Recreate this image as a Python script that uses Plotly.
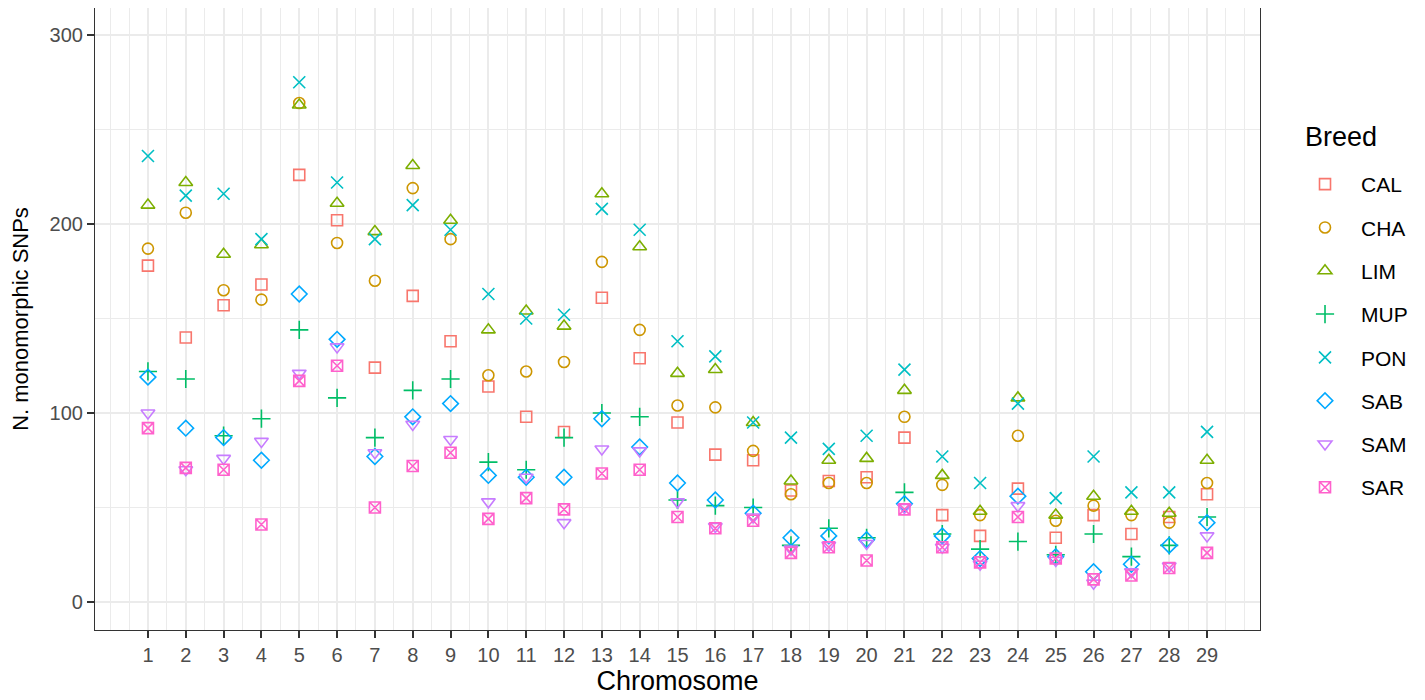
import plotly.graph_objects as go

chromosomes = list(range(1, 30))
breeds = ["CAL", "CHA", "LIM", "MUP", "PON", "SAB", "SAM", "SAR"]

CAL = [178, 140, 157, 168, 226, 202, 124, 162, 138, 114, 98, 90, 161, 129, 95, 78, 75, 59, 64, 66, 87, 46, 35, 60, 34, 46, 36, 45, 57]
CHA = [187, 206, 165, 160, 264, 190, 170, 219, 192, 120, 122, 127, 180, 144, 104, 103, 80, 57, 63, 63, 98, 62, 46, 88, 43, 51, 46, 42, 63]
LIM = [210, 222, 184, 189, 263, 211, 196, 231, 202, 144, 154, 146, 216, 188, 121, 123, 95, 64, 75, 76, 112, 67, 48, 108, 46, 56, 48, 47, 75]
MUP = [122, 118, 88, 97, 144, 108, 87, 112, 118, 74, 70, 87, 100, 98, 54, 51, 50, 30, 39, 34, 58, 36, 28, 32, 25, 36, 24, 30, 45]
PON = [236, 215, 216, 192, 275, 222, 192, 210, 197, 163, 150, 152, 208, 197, 138, 130, 95, 87, 81, 88, 123, 77, 63, 105, 55, 77, 58, 58, 90]
SAB = [119, 92, 87, 75, 163, 139, 77, 98, 105, 67, 66, 66, 97, 82, 63, 54, 47, 34, 35, 33, 52, 35, 23, 56, 24, 16, 20, 30, 42]
SAM = [100, 70, 76, 85, 121, 135, 79, 94, 86, 53, 66, 42, 81, 80, 53, 40, 45, 28, 30, 31, 50, 29, 20, 51, 22, 10, 16, 19, 35]
SAR = [92, 71, 70, 41, 117, 125, 50, 72, 79, 44, 55, 49, 68, 70, 45, 39, 43, 26, 29, 22, 49, 29, 21, 45, 23, 12, 14, 18, 26]

series = {"CAL": CAL, "CHA": CHA, "LIM": LIM, "MUP": MUP, "PON": PON, "SAB": SAB, "SAM": SAM, "SAR": SAR}

colors = ["#F8766D", "#CD9600", "#7CAE00", "#00BE67", "#00BFC4", "#00A9FF", "#C77CFF", "#FF61CC"]
symbols = ["square-open", "circle-open", "triangle-up-open", "cross-thin-open",
           "x-thin-open", "diamond-open", "triangle-down-open", "square-x-open"]
sizes = [11, 11, 12, 13, 12, 12, 12, 11]

fig = go.Figure()
for b, c, s, sz in zip(breeds, colors, symbols, sizes):
    fig.add_trace(go.Scatter(
        x=chromosomes, y=series[b], mode="markers", name=b, legendgroup=b,
        marker=dict(symbol=s, color=c, size=sz, line=dict(color=c, width=1.6)),
    ))

axis_common = dict(
    showline=True, linecolor="#333333", linewidth=1.2, mirror=True,
    gridcolor="#EBEBEB", gridwidth=1.8, zeroline=False,
    ticks="outside", ticklen=7, tickcolor="#333333", tickwidth=1.5,
    tickfont=dict(size=20, color="#4D4D4D"),
)

fig.update_layout(
    width=1425, height=700,
    paper_bgcolor="white", plot_bgcolor="white",
    font=dict(family="Liberation Sans, Arial, sans-serif", color="black"),
    margin=dict(l=87, r=173, t=0, b=78),
    xaxis=dict(
        **axis_common, range=[-0.4, 30.4], tickmode="array", tickvals=chromosomes,
        ticktext=[str(c) for c in chromosomes],
        minor=dict(tick0=0, dtick=0.5, showgrid=True, gridcolor="#EBEBEB", gridwidth=0.9),
        title=dict(text="Chromosome", font=dict(size=27), standoff=6),
    ),
    yaxis=dict(
        **axis_common, range=[-14.8, 314.3], tickmode="array", tickvals=[0, 100, 200, 300],
        minor=dict(tickvals=[50, 150, 250], showgrid=True, gridcolor="#EBEBEB", gridwidth=0.9),
        title=dict(text="N. monomorphic SNPs", font=dict(size=22), standoff=22),
    ),
    legend=dict(
        x=1.0249, xanchor="left", y=0.7492, yanchor="top",
        font=dict(size=21), tracegroupgap=13, itemwidth=62,
        bgcolor="rgba(0,0,0,0)",
    ),
    annotations=[dict(
        text="Breed", xref="paper", yref="paper", x=1.0369, y=0.7926,
        xanchor="left", yanchor="middle", showarrow=False, font=dict(size=27),
    )],
)

fig.write_html("out.html")
